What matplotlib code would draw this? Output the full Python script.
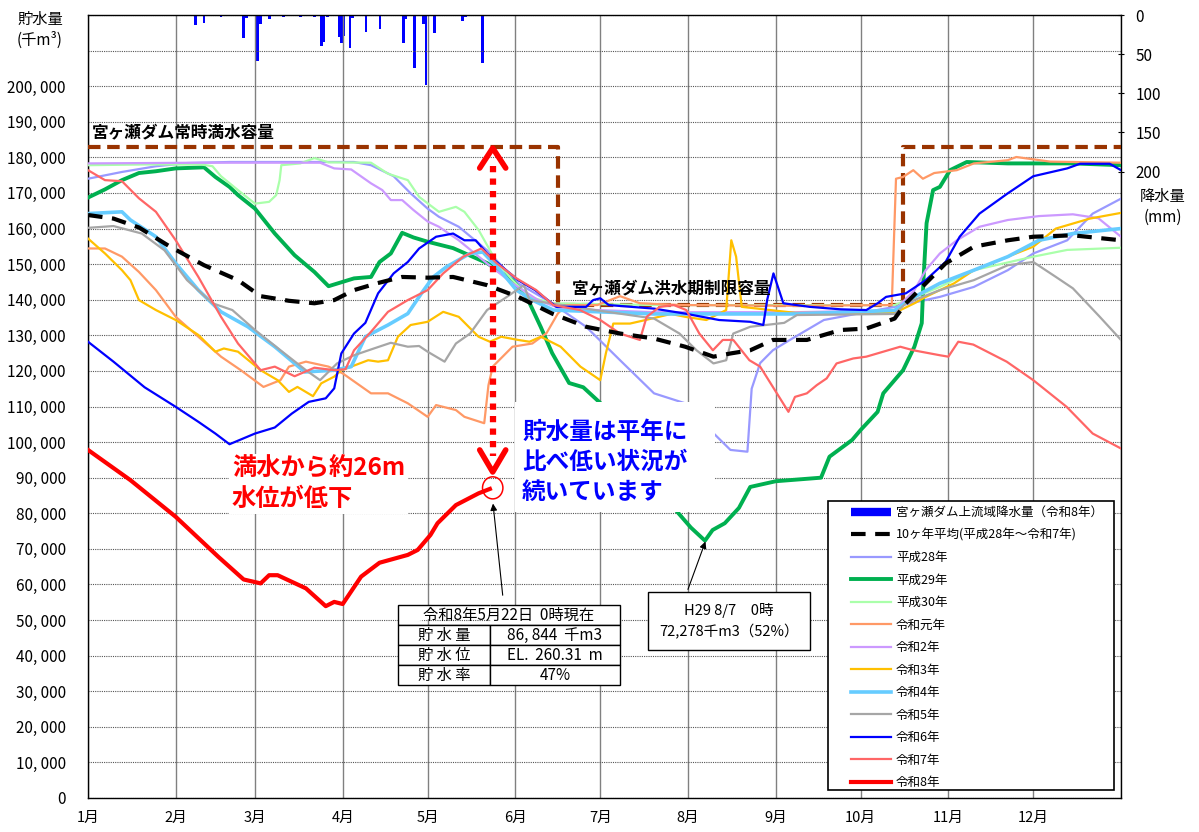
import matplotlib
matplotlib.use('Agg')
import matplotlib.pyplot as plt
from matplotlib.patches import Rectangle, Ellipse
from matplotlib.lines import Line2D
from matplotlib.ticker import FuncFormatter

plt.rcParams['font.family'] = ['Noto Sans CJK JP', 'DejaVu Sans']

# x軸: 1月1日を0とした通日
month_days = [0, 31, 59, 90, 120, 151, 181, 212, 243, 273, 304, 334]
month_labels = ['1月', '2月', '3月', '4月', '5月', '6月', '7月', '8月', '9月', '10月', '11月', '12月']

# 貯水量 (単位: 1,000 千m3)
avg_day = [0, 9, 18, 29, 41, 53, 61, 71, 80, 87, 94, 102, 111, 120, 129, 141, 152, 164, 176, 188, 200,
           211, 221, 227, 234, 242, 254, 266, 275, 285, 289, 296, 303, 313, 325, 334, 348, 365]
avg_val = [163.8, 162.8, 160.3, 154.9, 149.7, 145.5, 141.0, 139.7, 139.0, 139.9, 142.7, 144.6, 146.4, 146.2,
           146.4, 144.1, 140.8, 136.1, 132.4, 130.5, 129.1, 126.8, 124.0, 124.9, 125.8, 128.7, 128.7, 131.5,
           131.9, 134.7, 139.0, 144.6, 150.2, 154.9, 156.7, 157.7, 158.1, 156.7]

h28_day = [0, 12, 24, 35, 50, 70, 94, 100, 108, 114, 120, 124, 131, 141, 152, 164, 176, 188, 200, 211, 221,
           227, 233, 234.5, 237.5, 242, 248, 260, 272, 285, 301, 313, 325, 334, 346, 355, 365]
h28_val = [174.0, 175.9, 177.5, 178.4, 178.7, 178.7, 178.7, 177.8, 174.7, 169.9, 165.6, 163.3, 160.5, 153.9,
           144.6, 139.0, 132.4, 123.0, 113.7, 110.9, 102.5, 97.8, 97.3, 115.0, 122.2, 125.8, 128.7, 134.3,
           136.1, 138.0, 140.8, 143.6, 148.3, 153.0, 156.7, 164.2, 168.4]

h29_day = [0, 6, 12, 18, 24, 31, 41, 45, 50, 53, 59, 66, 73, 80, 85, 94, 100, 103, 107, 111, 115, 120, 129,
           141, 150, 155, 160, 164, 170, 175, 181, 190, 200, 207, 213, 218, 220.7, 225, 230, 234, 243, 259,
           262, 270, 273, 279, 281, 288, 292, 294.6, 295.2, 296.3, 298.6, 301, 304.6, 310.5, 325, 348, 365]
h29_val = [168.7, 171.0, 173.6, 175.6, 176.1, 176.9, 177.2, 174.5, 171.7, 169.4, 165.6, 158.6, 152.5, 147.8,
           143.8, 146.0, 146.4, 150.6, 153.0, 158.8, 157.5, 156.3, 154.5, 150.3, 145.5, 140.8, 132.3, 125.0,
           116.6, 115.4, 111.0, 102.0, 90.0, 81.5, 76.0, 72.3, 75.3, 77.2, 81.5, 87.4, 89.0, 90.0, 95.9,
           100.6, 103.4, 108.5, 113.7, 120.2, 126.8, 133.4, 145.5, 161.5, 170.8, 171.7, 176.4, 178.7, 178.3,
           178.3, 177.8]

h30_day = [0, 20, 40, 44, 47, 53, 59, 64, 66.5, 67.7, 68.3, 75, 80, 85, 100, 106, 113, 117, 124, 130, 133,
           138, 144, 150, 156, 164, 200, 250, 285, 301, 313, 334, 346, 365]
h30_val = [177.8, 178.0, 178.0, 177.5, 174.7, 170.8, 167.0, 167.5, 169.4, 173.6, 177.8, 178.3, 179.8, 178.6,
           178.5, 175.4, 173.6, 168.9, 164.7, 166.1, 164.7, 159.6, 151.1, 145.5, 140.8, 139.0, 138.5, 138.5,
           138.5, 143.6, 148.3, 152.1, 154.0, 154.6]

r1_day = [0, 6, 12, 18, 24, 31, 39, 47, 54, 62, 68, 71, 77, 85, 90, 100, 106, 113, 120, 123, 130, 133, 140,
          141.5, 143, 150, 157, 162, 166, 169, 180, 188, 195, 210, 250, 284, 285.5, 288, 291.6, 295, 299,
          307, 313, 325, 328, 340, 365]
r1_val = [154.4, 154.4, 152.1, 147.8, 142.7, 135.2, 129.6, 124.0, 120.2, 115.5, 117.4, 121.2, 122.6, 121.2,
          119.3, 113.7, 113.7, 110.9, 107.1, 110.4, 109.0, 107.1, 105.3, 116.0, 121.2, 126.8, 127.7, 130.6,
          136.1, 138.5, 138.5, 141.0, 139.0, 138.5, 138.3, 138.5, 174.0, 174.5, 176.4, 174.0, 175.6, 176.4,
          178.3, 179.2, 180.1, 178.8, 178.5]

r2_day = [0, 40, 82, 87, 93, 100, 104, 107, 111, 115, 120, 124, 131, 141, 150, 159, 167, 200, 250, 285, 292,
          296, 301, 307, 315, 325, 336, 348, 357, 365]
r2_val = [178.3, 178.5, 178.5, 176.9, 176.6, 172.7, 170.8, 168.0, 168.0, 165.2, 162.0, 160.5, 156.7, 150.2,
          144.6, 139.9, 137.5, 136.5, 136.5, 137.0, 142.7, 148.3, 153.0, 156.7, 160.5, 162.4, 163.5, 164.0,
          162.9, 157.7]

r3_day = [0, 6, 12, 15, 18, 24, 31, 39, 45, 48, 53, 61, 67, 71, 74, 79.5, 82.4, 87, 89.5, 93, 99, 102.5, 106,
          109.5, 114, 120, 125.5, 131, 138, 142, 146, 152, 156, 160, 167, 174, 181, 183, 185.6, 191.5, 197,
          206, 211, 218.5, 225.5, 227.3, 229, 231, 250, 285, 292, 296, 306, 313, 325, 334, 342, 354, 365]
r3_val = [157.2, 153.0, 148.3, 145.5, 139.9, 137.1, 134.3, 130.1, 125.4, 126.3, 125.4, 120.2, 117.4, 114.1,
          115.5, 112.9, 116.5, 118.4, 120.2, 121.2, 123.0, 122.6, 123.0, 129.6, 132.9, 133.8, 136.6, 135.2,
          129.6, 128.2, 129.6, 128.7, 128.2, 129.6, 126.8, 121.2, 117.4, 125.0, 133.3, 133.3, 134.3, 136.0,
          135.2, 134.3, 137.1, 156.7, 152.1, 138.0, 136.3, 136.3, 139.0, 140.8, 144.6, 148.3, 152.1, 154.9,
          160.0, 162.8, 164.4]

r4_day = [0, 12, 15, 24, 31, 39, 47, 56.5, 66, 76.6, 87, 93, 98, 106, 113, 118, 122, 126.6, 135, 139.5,
          145.6, 151.4, 157, 164.4, 200, 250, 285, 292, 301, 313, 325, 336, 348, 365]
r4_val = [164.2, 164.7, 162.4, 157.7, 150.2, 142.7, 136.6, 132.4, 126.8, 119.7, 120.2, 121.2, 129.6, 132.9,
          136.1, 142.0, 146.4, 149.2, 153.0, 153.4, 148.3, 142.7, 139.9, 137.1, 136.0, 136.0, 137.0, 140.8,
          144.6, 148.3, 152.1, 156.7, 158.6, 160.0]

r5_day = [0, 9, 19, 27, 35, 44, 51, 59, 68, 77, 82, 88, 94, 101, 107, 113, 117, 120, 126, 130, 135, 141,
          148, 154, 156, 180, 200, 209, 215, 221, 225.5, 228, 234, 246, 250.5, 285, 289, 301, 313, 325, 334,
          342, 348, 357.5, 365]
r5_val = [160.2, 160.7, 158.6, 153.9, 145.5, 139.0, 137.1, 131.5, 125.8, 120.2, 117.4, 122.1, 124.4, 126.3,
          127.9, 126.8, 127.0, 125.4, 122.6, 127.7, 130.5, 137.1, 140.8, 144.1, 139.9, 137.0, 134.7, 130.5,
          125.8, 122.1, 123.0, 130.5, 132.4, 133.5, 135.7, 136.0, 139.0, 142.7, 145.5, 149.7, 150.6, 146.4,
          143.2, 135.2, 128.7]

r6_day = [0, 9, 20, 31, 39, 45, 50, 59, 66, 72, 78, 84, 87, 89.5, 94, 98, 102.5, 108, 113, 117, 123, 129, 133,
          137, 141, 147, 152, 158, 165.5, 176, 178.5, 181, 184, 200, 211, 223, 234, 238.6, 240, 242.2, 245.7,
          255, 266, 275, 279, 282, 289, 296, 303, 308, 315, 325, 334, 346, 350.5, 361, 365]
r6_val = [128.2, 122.6, 115.4, 109.9, 105.7, 102.4, 99.4, 102.4, 104.1, 108.0, 111.3, 112.3, 115.1, 124.9,
          130.5, 133.5, 141.8, 147.4, 150.6, 154.4, 157.7, 158.6, 156.7, 156.7, 153.0, 148.8, 145.5, 142.7,
          138.0, 138.0, 139.9, 140.4, 138.5, 137.5, 136.1, 134.3, 133.8, 132.9, 140.0, 147.4, 139.0, 138.0,
          137.3, 137.1, 139.0, 140.8, 141.8, 145.5, 150.6, 157.7, 164.2, 169.9, 174.7, 176.9, 178.2, 178.2,
          176.4]

r7_day = [0, 6, 12, 18, 24, 31, 39, 47, 53, 61, 66, 73, 80, 87, 91, 94, 100, 106, 113, 120, 125.5, 132.6,
          139, 144.5, 151.4, 158.4, 164.4, 173.8, 181, 188, 195, 197.4, 202, 207, 211.4, 216, 220.8, 224.3,
          228, 233.7, 237.5, 247.5, 249.8, 254, 257.5, 261, 264.5, 270.4, 275, 287, 291.6, 301, 304, 307.5,
          312.8, 324.6, 334, 345.8, 355, 365]
r7_val = [176.4, 173.6, 173.3, 168.5, 164.7, 156.7, 146.4, 135.2, 127.7, 120.2, 121.2, 118.5, 120.9, 120.2,
          120.5, 125.8, 131.0, 136.6, 139.9, 142.7, 147.4, 152.1, 154.4, 150.2, 146.0, 142.7, 138.5, 137.1,
          134.3, 130.5, 128.7, 135.2, 138.0, 138.5, 137.1, 130.5, 125.8, 128.7, 128.7, 123.0, 121.2, 108.5,
          112.7, 113.7, 116.0, 117.9, 122.1, 123.5, 124.0, 126.8, 125.8, 124.4, 124.0, 128.2, 127.4, 122.6,
          117.4, 109.9, 102.4, 98.2]

r8_day = [0, 15, 31, 46, 55, 61, 64, 67, 77, 84, 87, 90, 96.5, 103, 113, 116.5, 121, 123.5, 130, 138, 142]
r8_val = [97.8, 89.3, 79.0, 67.8, 61.4, 60.3, 62.6, 62.6, 58.9, 53.9, 55.1, 54.5, 62.2, 66.1, 68.3, 69.7,
          73.9, 77.2, 82.3, 85.6, 86.844]

# 宮ヶ瀬ダム上流域降水量 (令和8年, mm)
rain_day = [38, 41, 47, 55, 56, 60, 61, 64, 69, 75, 80, 82.6, 83.4, 84.5, 88.8, 89.6, 90.2, 92.6, 93.4, 98.2,
            103.2, 111.4, 112.2, 115.3, 118.5, 119.4, 122.3, 132.4, 133.5, 139.5]
rain_mm = [12.8, 9.8, 2, 29.8, 4, 58.7, 11.5, 5.5, 2, 2, 2, 39.6, 35, 2, 27.7, 36, 27, 41.7, 4, 21.3, 17.9,
           36.2, 5, 68, 11, 89.4, 22.6, 7.2, 2, 61.7]

# 容量ライン (千m3)
cap_day = [0, 166, 166, 288, 288, 365]
cap_val = [183000, 183000, 138500, 138500, 183000, 183000]

series = [
    ('平成28年', h28_day, h28_val, '#9999ff', 1.6),
    ('平成29年', h29_day, h29_val, '#00b050', 2.8),
    ('平成30年', h30_day, h30_val, '#aaffaa', 1.6),
    ('令和元年', r1_day, r1_val, '#ff9966', 1.6),
    ('令和2年', r2_day, r2_val, '#cc99ff', 1.6),
    ('令和3年', r3_day, r3_val, '#ffc000', 1.6),
    ('令和4年', r4_day, r4_val, '#66ccff', 2.6),
    ('令和5年', r5_day, r5_val, '#a6a6a6', 1.6),
    ('令和6年', r6_day, r6_val, '#0000ff', 1.6),
    ('令和7年', r7_day, r7_val, '#ff6666', 1.6),
]


def k(vals):
    return [v * 1000 for v in vals]


fig = plt.figure(figsize=(11.99, 8.32), dpi=100)
ax = fig.add_axes([88 / 1199, 34 / 832, 1033 / 1199, 783 / 832])
ax2 = ax.twinx()
ax.set_zorder(ax2.get_zorder() + 1)
ax.patch.set_visible(False)

# 降水量 (右軸, 上から下向き)
ax2.bar(rain_day, rain_mm, width=1.0, color='#0000ff', zorder=2)
ax2.set_ylim(1000, 0)
ax2.set_yticks([0, 50, 100, 150, 200])
ax2.tick_params(axis='y', labelsize=11, direction='inout', length=5, pad=8)

handles = [Line2D([], [], color='#0000ff', lw=6, solid_capstyle='butt', label='宮ヶ瀬ダム上流域降水量（令和8年）')]

ax.plot(cap_day, cap_val, color='#993300', lw=3, dashes=(3, 1.6), zorder=3)

lines = {}
for name, d, v, col, lw in series:
    lines[name], = ax.plot(d, k(v), color=col, lw=lw, label=name, zorder=4)
avg_line, = ax.plot(avg_day, k(avg_val), color='black', lw=3, dashes=(3.5, 2.3),
                    label='10ヶ年平均(平成28年～令和7年)', zorder=5)
r8_line, = ax.plot(r8_day, k(r8_val), color='#ff0000', lw=3, label='令和8年', zorder=6)

handles.append(avg_line)
handles += [lines[s[0]] for s in series]
handles.append(r8_line)

ax.set_xlim(0, 365)
ax.set_ylim(0, 220000)
ax.set_xticks(month_days + [365])
ax.set_xticklabels(month_labels + [''])
ax.set_yticks(range(0, 220001, 10000))
ax.yaxis.set_major_formatter(FuncFormatter(
    lambda v, p: '' if v > 200000 else f'{int(v):,}'.replace(',', ', ')))
ax.tick_params(axis='x', length=0, labelsize=10.5, pad=9)
ax.tick_params(axis='y', length=0, labelsize=11, pad=16)
ax.grid(axis='x', color='#808080', lw=1)
ax.grid(axis='y', color='#555555', lw=0.8, ls=(0, (1, 1)))
ax.set_axisbelow(True)
ax2.spines[:].set_visible(False)
for sp in ax.spines.values():
    sp.set_color('black')
    sp.set_linewidth(1)

# 容量ラベル
ax.text(1.5, 186800, '宮ヶ瀬ダム常時満水容量', fontsize=12, fontweight='bold', va='center', zorder=7)
ax.text(171, 142800, '宮ヶ瀬ダム洪水期制限容量', fontsize=12, fontweight='bold', va='center', zorder=7)

# 満水からの低下を示す矢印
cur_day = r8_day[-1] + 1
ax.plot([cur_day, cur_day], [177500, 96000], color='#ff0000', lw=4.5, ls=(0, (1, 1)),
        solid_capstyle='butt', dash_capstyle='butt', zorder=8)
ax.plot([cur_day - 4.6, cur_day, cur_day + 4.6], [177000, 182600, 177000], color='#ff0000', lw=4,
        solid_joinstyle='round', solid_capstyle='round', zorder=8)
ax.plot([cur_day - 4.6, cur_day, cur_day + 4.6], [97800, 91600, 97800], color='#ff0000', lw=4,
        solid_joinstyle='round', solid_capstyle='round', zorder=8)
ax.add_patch(Ellipse((cur_day, r8_val[-1] * 1000 + 300), 7.2, 6200, fill=False, ec='#ff0000', lw=1.1, zorder=8))

ax.text(50.9, 88300, '満水から約26m\n水位が低下', color='#ff0000', fontsize=17.5, fontweight='bold',
        va='center', ha='left', linespacing=1.35, zorder=9,
        bbox=dict(fc='white', ec='none', pad=2))
ax.add_patch(Rectangle(((515 - 88) / 1033, (798 - 512) / 783), 200 / 1033, 110 / 783,
                       transform=ax.transAxes, fc='white', ec='none', zorder=8.5))
ax.text(153.4, 94400, '貯水量は平年に\n比べ低い状況が\n続いています', color='#0000ff', fontsize=17,
        fontweight='bold', va='center', ha='left', linespacing=1.3, zorder=9)

# 現在値の表
tx, ty, tw, th = 0.3001, 0.1443, 0.2149, 0.1022
tbl = ax.table(cellText=[['', ''], ['貯 水 量', '86, 844  千m3'], ['貯 水 位', 'EL.  260.31  m'],
                         ['貯 水 率', '47%']],
               colWidths=[tw * 92 / 222, tw * 130 / 222], cellLoc='center', bbox=[tx, ty, tw, th])
tbl.auto_set_font_size(False)
tbl.set_fontsize(11)
tbl.set_zorder(12)
for (r, c), cell in tbl.get_celld().items():
    cell.set_linewidth(1)
    cell.set_edgecolor('black')
    if r == 0:
        cell.visible_edges = 'BTL' if c == 0 else 'BTR'
ax.text(tx + tw / 2, ty + th * 0.875, '令和8年5月22日  0時現在', transform=ax.transAxes, fontsize=11,
        ha='center', va='center', zorder=13)
ax.annotate('', xy=(cur_day, 83500), xytext=((503 - 88) / 1033, (798 - 598) / 783),
            textcoords='axes fraction', zorder=12,
            arrowprops=dict(arrowstyle='-|>', color='black', lw=0.8, mutation_scale=10))

# H29 最低値
ax.add_patch(Rectangle(((648 - 88) / 1033, (798 - 650) / 783), 162 / 1033, 58 / 783,
                       transform=ax.transAxes, fc='white', ec='black', lw=1, zorder=12))
ax.text((729 - 88) / 1033, (798 - 621) / 783, 'H29 8/7　0時\n72,278千m3（52%）', transform=ax.transAxes,
        fontsize=10.5, ha='center', va='center', linespacing=1.5, zorder=13)
ax.annotate('', xy=(218.5, 72800), xytext=((687 - 88) / 1033, (798 - 592) / 783),
            textcoords='axes fraction', zorder=12,
            arrowprops=dict(arrowstyle='-|>', color='black', lw=0.8, mutation_scale=10))

# 凡例
ax.add_patch(Rectangle(((828 - 88) / 1033, (798 - 790) / 783), 286 / 1033, 289 / 783,
                       transform=ax.transAxes, fc='white', ec='black', lw=1.2, zorder=14))
leg = ax.legend(handles=handles, loc='upper left', bbox_to_anchor=((851 - 88) / 1033, (798 - 506) / 783),
                frameon=False, fontsize=9, borderpad=0, borderaxespad=0, handlelength=3.2,
                handletextpad=0.4, labelspacing=0.76)
leg.set_zorder(15)

fig.text(40 / 1199, 1 - 30 / 832, '貯水量\n(千m³)', ha='center', va='center', fontsize=11, linespacing=1.3)
fig.text(1163 / 1199, 1 - 207 / 832, '降水量\n(mm)', ha='center', va='center', fontsize=11, linespacing=1.3)

fig.savefig('out.png', dpi=100)
